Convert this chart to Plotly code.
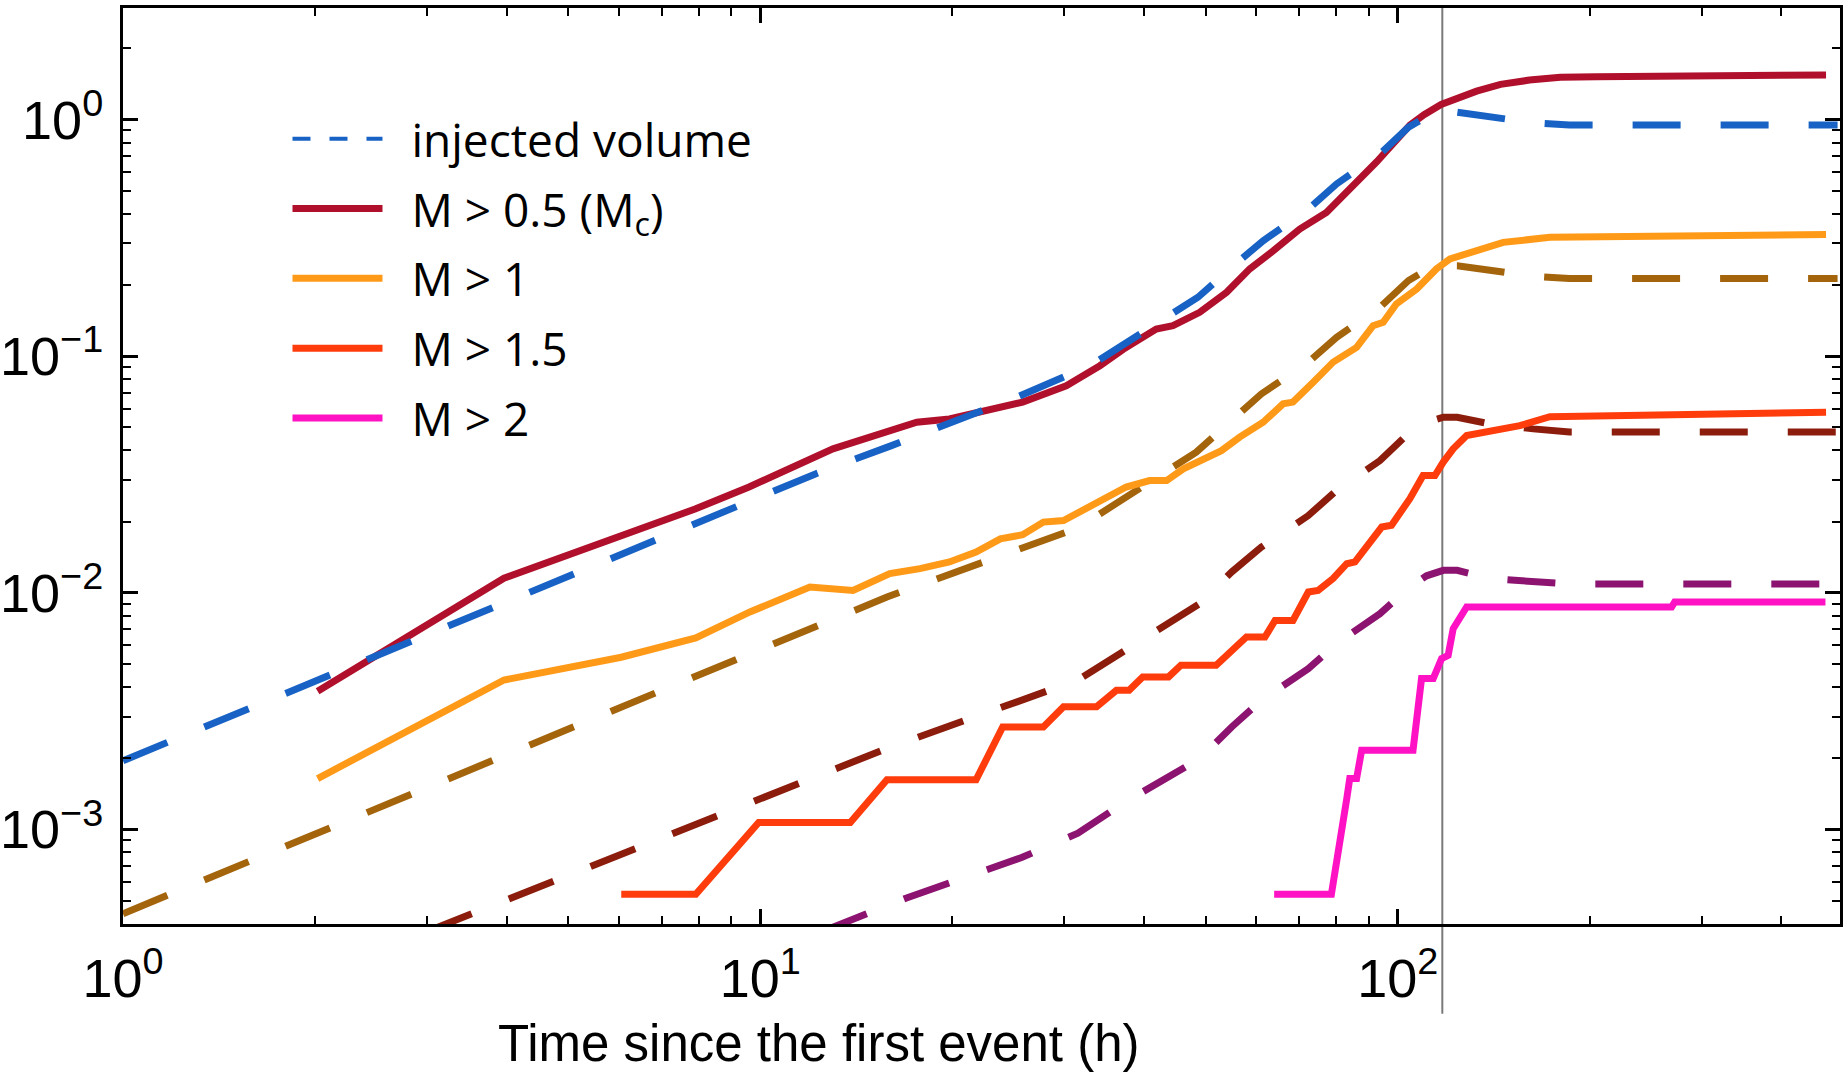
import plotly.graph_objects as go

# ---------------- data ----------------
t_inj = [1, 2, 4, 8, 12.2, 16.06, 19.7, 25.3, 33.0, 42.4, 48.6, 54.9, 61.5, 71.9, 80.2, 93.8,
         104, 111, 117.9, 124, 139.5, 163.2, 186, 490]
v_inj = [1.95e-3, 4.23e-3, 9.17e-3, 0.0199, 0.0318, 0.0419, 0.0518, 0.0672, 0.0916, 0.1417,
         0.1775, 0.2376, 0.3077, 0.412, 0.535, 0.716, 0.93, 1.03, 1.075, 1.075, 1.03, 0.97, 0.95, 0.95]

t_m05 = [2.02, 3.96, 7.9, 9.6, 13.0, 17.6, 19.8, 22.4, 25.8, 30.2, 34.1, 37.1, 41.8, 44.4, 48.9,
         53.9, 58.6, 63.8, 70.2, 77.3, 83.2, 87.3, 92.7, 104.5, 110, 117, 125, 133, 145, 161, 180,
         205, 470]
v_m05 = [3.84e-3, 0.01153, 0.0226, 0.028, 0.0406, 0.0526, 0.0543, 0.059, 0.064, 0.075, 0.0912,
         0.107, 0.1304, 0.1346, 0.1534, 0.1863, 0.234, 0.279, 0.345, 0.4055, 0.4926, 0.561, 0.664,
         0.948, 1.05, 1.16, 1.25, 1.32, 1.41, 1.47, 1.51, 1.52, 1.545]

t_m10 = [2.02, 3.96, 6.05, 7.92, 9.63, 11.96, 13.98, 15.96, 17.8, 19.8, 21.8, 23.8, 25.8, 27.8,
         29.9, 33.7, 37.5, 40.8, 43.4, 46.1, 48.3, 52.9, 56.5, 61.5, 66.1, 68.5, 73.7, 79.2, 86.2,
         91.5, 94.9, 99.5, 107.1, 115, 120.8, 133, 146.4, 173.3, 470]
v_m10 = [1.64e-3, 4.28e-3, 5.34e-3, 6.44e-3, 8.3e-3, 0.01058, 0.01023, 0.01205, 0.01265, 0.0135,
         0.01486, 0.0169, 0.0176, 0.0199, 0.0202, 0.0238, 0.028, 0.0298, 0.0298, 0.0334, 0.0357,
         0.0399, 0.0455, 0.0526, 0.0629, 0.064, 0.0777, 0.0944, 0.109, 0.1346, 0.139, 0.1663,
         0.1923, 0.2338, 0.2576, 0.279, 0.303, 0.318, 0.327]

t_m15 = [6.05, 7.92, 9.94, 13.84, 15.8, 21.8, 24.0, 27.8, 29.9, 33.7, 36.2, 37.9, 39.8, 43.7,
         45.7, 51.9, 57.9, 61.9, 64.2, 68.5, 72.4, 75.0, 79.2, 83.2, 85.7, 94.4, 97.8, 104.5, 109.6,
         114.4, 117.9, 122.2, 128.3, 139.5, 155.5, 173.3, 210, 470]
v_m15 = [5.32e-4, 5.32e-4, 1.07e-3, 1.07e-3, 1.62e-3, 1.62e-3, 2.71e-3, 2.71e-3, 3.3e-3, 3.3e-3,
         3.87e-3, 3.87e-3, 4.41e-3, 4.41e-3, 4.94e-3, 4.94e-3, 6.5e-3, 6.5e-3, 7.64e-3, 7.64e-3,
         0.01008, 0.01023, 0.0115, 0.01327, 0.0135, 0.01897, 0.0193, 0.025, 0.0313, 0.0313, 0.0357,
         0.0406, 0.0462, 0.0485, 0.0509, 0.0555, 0.0561, 0.058]

t_m20 = [64, 78.7, 83.2, 84.1, 86.2, 87.8, 105.7, 109, 113.7, 117.2, 120, 122.2, 128.3, 269, 272, 469]
v_m20 = [5.32e-4, 5.32e-4, 1.35e-3, 1.64e-3, 1.64e-3, 2.16e-3, 2.16e-3, 4.34e-3, 4.34e-3, 5.27e-3,
         5.44e-3, 7.05e-3, 8.71e-3, 8.71e-3, 9.14e-3, 9.14e-3]

# expected counts (dashed)
t_e10 = [1, 15.8, 31.5, 48.3, 54.9, 61.1, 72.4, 80.2, 93.8, 104, 111, 117.9, 124, 139.5, 163.2, 186, 490]
v_e10 = [4.4e-4, 9.6e-3, 0.0188, 0.0393, 0.0535, 0.0693, 0.0943, 0.1202, 0.161, 0.209, 0.232,
         0.2413, 0.2413, 0.23, 0.2178, 0.213, 0.213]

t_e15 = [3.0, 15.8, 31.5, 48.9, 54.9, 61.1, 72.4, 80.2, 93.8, 104.5, 111, 117.9, 124, 139.5, 163.2, 186, 490]
v_e15 = [3.7e-4, 2.2e-3, 4.28e-3, 9.0e-3, 0.01225, 0.0156, 0.0212, 0.0271, 0.0362, 0.0478, 0.0525,
         0.0552, 0.0552, 0.0518, 0.0493, 0.0478, 0.0478]

t_e20 = [12.5, 16.96, 22.3, 25.7, 31.5, 37.1, 48.9, 54.9, 61.1, 72.4, 80.2, 93.8, 104.5, 111, 117.9,
         124, 139.5, 163.2, 186, 490]
v_e20 = [3.7e-4, 5.13e-4, 6.65e-4, 7.6e-4, 9.64e-4, 1.29e-3, 1.99e-3, 2.71e-3, 3.51e-3, 4.78e-3,
         6.1e-3, 8.16e-3, 0.01058, 0.0118, 0.01244, 0.01244, 0.01148, 0.0111, 0.0109, 0.0109]

t_shutin = 117.5

x_tickvals = [1, 10, 100]
x_ticktext = ["10<sup>0</sup>", "10<sup>1</sup>", "10<sup>2</sup>"]
y_tickvals = [1e-3, 1e-2, 1e-1, 1]
y_ticktext = ["10<sup>\u22123</sup>", "10<sup>\u22122</sup>", "10<sup>\u22121</sup>", "10<sup>0</sup>"]

legend_names = ["injected volume", "M > 0.5 (M<sub>c</sub>)", "M > 1", "M > 1.5", "M > 2"]

# ---------------- styles ----------------
C_BLUE = "#1762c4"
C_M05 = "#b0102c"
C_M10 = "#ff9a18"
C_M15 = "#ff3c0c"
C_M20 = "#ff12c4"
C_E10 = "#a3640c"
C_E15 = "#8c1c0c"
C_E20 = "#8c1470"

DASH = "48px,40px"
LW = 7
GAP = "\u00a0\u00a0"  # space between key line and label

fig = go.Figure()

def add(x, y, color, dash=None, name=None, show=False, rank=None, group=None):
    fig.add_trace(go.Scatter(
        x=x, y=y, mode="lines", name=name, showlegend=show,
        legendrank=rank, legendgroup=group,
        line=dict(color=color, width=LW, dash=dash),
    ))

add(t_e10, v_e10, C_E10, DASH)
add(t_e15, v_e15, C_E15, DASH)
add(t_e20, v_e20, C_E20, DASH)
add(t_m05, v_m05, C_M05, None, GAP + legend_names[1], True, 2, "g2")
add(t_m10, v_m10, C_M10, None, GAP + legend_names[2], True, 3, "g3")
add(t_m15, v_m15, C_M15, None, GAP + legend_names[3], True, 4, "g4")
add(t_m20, v_m20, C_M20, None, GAP + legend_names[4], True, 5, "g5")
add(t_inj, v_inj, C_BLUE, DASH)
# legend key for the injected volume (short dashes as in the reference key)
fig.add_trace(go.Scatter(x=[None], y=[None], mode="lines", name=GAP + legend_names[0],
                         showlegend=True, legendrank=1, legendgroup="g1",
                         line=dict(color=C_BLUE, width=4, dash="18px,19px")))

fig.add_shape(type="line", xref="x", yref="paper", x0=t_shutin, x1=t_shutin,
              y0=-0.098, y1=1, line=dict(color="#7a7a7a", width=2), layer="below")

tickfont = dict(family="Liberation Sans", size=54, color="black")
minor_vals = [m * 10 ** e for e in range(-4, 3) for m in range(2, 10)]

axis_common = dict(
    type="log", showline=True, linecolor="black", linewidth=3, mirror="allticks",
    ticks="inside", ticklen=15, tickwidth=2.5, tickcolor="black", showgrid=False,
    zeroline=False, tickfont=tickfont, tickmode="array", automargin=False,
    minor=dict(ticks="inside", ticklen=8, tickwidth=2, tickcolor="black",
               tickmode="array", tickvals=minor_vals, showgrid=False),
)

fig.update_layout(
    width=1846, height=1074,
    margin=dict(l=123, r=6, t=8, b=150),
    paper_bgcolor="white", plot_bgcolor="white",
    xaxis=dict(range=[0, 2.694], tickvals=x_tickvals, ticktext=x_ticktext,
               ticklabelstandoff=5, **axis_common),
    yaxis=dict(range=[-3.40, 0.472], tickvals=y_tickvals, ticktext=y_ticktext,
               ticklabelstandoff=6, **axis_common),
    legend=dict(x=0.0958, y=0.897, xanchor="left", yanchor="top",
                bgcolor="rgba(0,0,0,0)", borderwidth=0, itemwidth=90,
                tracegroupgap=7,
                font=dict(family="Open Sans", size=46, color="black")),
    showlegend=True,
)

fig.add_annotation(text="Time since the first event (h)", xref="paper", yref="paper",
                   x=0.405, y=-0.131, xanchor="center", yanchor="middle", showarrow=False,
                   font=dict(family="Liberation Sans, Arial", size=51, color="black"))

fig.write_html("out.html")
